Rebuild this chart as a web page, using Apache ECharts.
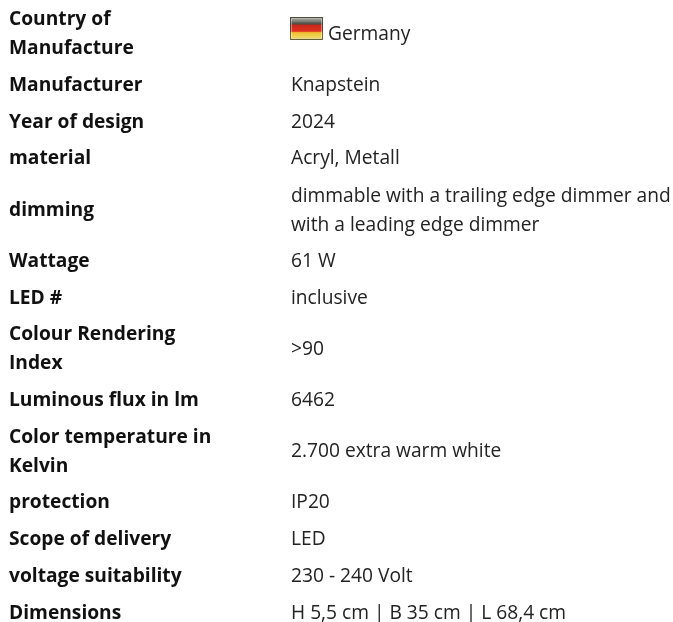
<!DOCTYPE html>
<html><head><meta charset="utf-8">
<style>html,body{margin:0;padding:0;background:#fff}#c{width:673px;height:622px}</style>
<script src="https://cdn.jsdelivr.net/npm/echarts@6/dist/echarts.min.js"></script>
</head><body><div id="c"></div>
<script>
const labels = [["Country of","Manufacture"],["Manufacturer"],["Year of design"],["material"],["dimming"],["Wattage"],["LED #"],["Colour Rendering","Index"],["Luminous flux in lm"],["Color temperature in","Kelvin"],["protection"],["Scope of delivery"],["voltage suitability"],["Dimensions"]];
const values = [["Germany"],["Knapstein"],["2024"],["Acryl, Metall"],["dimmable with a trailing edge dimmer and","with a leading edge dimmer"],["61 W"],["inclusive"],[">90"],["6462"],["2.700 extra warm white"],["IP20"],["LED"],["230 - 240 Volt"],["H 5,5 cm | B 35 cm | L 68,4 cm"]];
const rowCenters = [32.5,84,121,157,209,260,297,347.5,399,450,501,538,575,612];
const LH = 29.3, FS = 19.2;
const els = [];
function addLines(lines, x, cy, weight, color){
  lines.forEach((t,i)=>{
    els.push({type:'text',x:x,y:cy+(i-(lines.length-1)/2)*LH+1.8,style:{text:t,fill:color,font:weight+' '+FS+'px "Open Sans"',textVerticalAlign:'middle',textAlign:'left'}});
  });
}
labels.forEach((l,i)=>addLines(l,9,rowCenters[i],'700','#111'));
values.forEach((v,i)=>addLines(v,i===0?328:291,rowCenters[i],'400','#222'));
// flag
const grad={type:'linear',x:0,y:0,x2:0,y2:1,colorStops:[
 {offset:0,color:'#6a6a5c'},{offset:0.12,color:'#9a9a92'},{offset:0.3,color:'#4a4a44'},
 {offset:0.36,color:'#c9281c'},{offset:0.62,color:'#e0301f'},
 {offset:0.68,color:'#f0c030'},{offset:0.88,color:'#f2d860'},{offset:1,color:'#b8a84a'}]};
els.push({type:'rect',shape:{x:290,y:17,width:33,height:23},style:{fill:grad}});
els.push({type:'rect',shape:{x:291.5,y:18.5,width:30,height:20},style:{fill:'none',stroke:'rgba(255,255,255,0.4)',lineWidth:1}});
els.push({type:'rect',shape:{x:290.5,y:17.5,width:32,height:22},style:{fill:'none',stroke:'rgba(60,60,40,0.7)',lineWidth:1}});
const chart=echarts.init(document.getElementById('c'),null,{renderer:'canvas'});
chart.setOption({animation:false,backgroundColor:'#fff',graphic:{elements:els}});
</script></body></html>
